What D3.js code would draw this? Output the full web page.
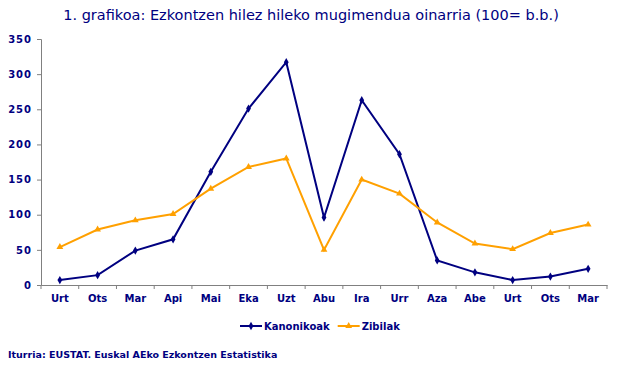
<!DOCTYPE html>
<html>
<head>
<meta charset="utf-8">
<script src="https://cdn.jsdelivr.net/npm/d3@7"></script>
<style>
  body { margin: 0; background: #fff; }
  text { font-family: Verdana, "DejaVu Sans", sans-serif; fill: #000080; }
</style>
</head>
<body>
<svg width="622" height="367"></svg>
<script>
var months = ["Urt", "Ots", "Mar", "Api", "Mai", "Eka", "Uzt", "Abu", "Ira", "Urr", "Aza", "Abe", "Urt", "Ots", "Mar"];
var kanonikoak = [7, 14, 49, 65, 161, 251, 317, 96, 263, 186, 35, 18, 7, 12, 23];
var zibilak = [54, 79, 92, 101, 137, 168, 180, 50, 150, 130, 89, 59, 51, 74, 86];
var yTicks = [0, 50, 100, 150, 200, 250, 300, 350];

var svg = d3.select("svg");
var mLeft = 41, mRight = 607, mTop = 39, mBottom = 285;

var x = d3.scaleBand().domain(d3.range(months.length)).range([mLeft, mRight]);
var y = d3.scaleLinear().domain([0, 350]).range([mBottom, mTop]);

svg.append("text")
  .attr("x", 311).attr("y", 20)
  .attr("text-anchor", "middle")
  .style("font-size", "14.5px")
  .text("1. grafikoa: Ezkontzen hilez hileko mugimendua oinarria (100= b.b.)");

// axes
var yAxis = svg.append("g")
  .attr("transform", "translate(" + mLeft + ",0)")
  .call(d3.axisLeft(y).tickValues(yTicks).tickSize(4).tickPadding(5));
yAxis.select(".domain").attr("stroke", "#808080");
yAxis.selectAll("line").attr("stroke", "#808080");
yAxis.selectAll("text")
  .style("font-size", "10px").style("font-weight", "bold")
  .style("letter-spacing", "1px");

var xAxis = svg.append("g")
  .attr("transform", "translate(0," + mBottom + ")")
  .call(d3.axisBottom(x).tickFormat(function(i) { return months[i]; }).tickSize(0).tickPadding(10));
xAxis.select(".domain").attr("stroke", "#808080");
xAxis.selectAll("text")
  .style("font-size", "10px").style("font-weight", "bold");

svg.append("g").selectAll("line")
  .data(d3.range(months.length + 1))
  .enter().append("line")
  .attr("x1", function(i) { return mLeft + i * x.step(); })
  .attr("x2", function(i) { return mLeft + i * x.step(); })
  .attr("y1", mBottom).attr("y2", mBottom + 4)
  .attr("stroke", "#808080");

var cx = function(d, i) { return x(i) + x.bandwidth() / 2; };
var line = d3.line().x(cx).y(function(d) { return y(d); });

var series = [
  { name: "Kanonikoak", values: kanonikoak, color: "#000080", shape: d3.symbolDiamond },
  { name: "Zibilak", values: zibilak, color: "#FFA000", shape: d3.symbolTriangle }
];

series.forEach(function(s) {
  svg.append("path")
    .datum(s.values)
    .attr("d", line)
    .attr("fill", "none")
    .attr("stroke", s.color)
    .attr("stroke-width", 2);

  svg.append("g").selectAll("path")
    .data(s.values)
    .enter().append("path")
    .attr("d", d3.symbol().type(s.shape).size(20))
    .attr("transform", function(d, i) { return "translate(" + cx(d, i) + "," + y(d) + ")"; })
    .attr("fill", s.color);
});

// legend
var legendX = 240;
series.forEach(function(s) {
  var g = svg.append("g").attr("transform", "translate(" + legendX + ",326)");
  g.append("line").attr("x1", 0).attr("x2", 22).attr("y1", 0).attr("y2", 0)
    .attr("stroke", s.color).attr("stroke-width", 2);
  g.append("path").attr("d", d3.symbol().type(s.shape).size(20))
    .attr("transform", "translate(11,0)").attr("fill", s.color);
  var t = g.append("text").attr("x", 24).attr("y", 4)
    .style("font-size", "10px").style("font-weight", "bold")
    .text(s.name);
  legendX += 24 + t.node().getComputedTextLength() + 8;
});

svg.append("text")
  .attr("x", 8).attr("y", 358)
  .style("font-size", "9.5px").style("font-weight", "bold")
  .text("Iturria: EUSTAT. Euskal AEko Ezkontzen Estatistika");
</script>
</body>
</html>
